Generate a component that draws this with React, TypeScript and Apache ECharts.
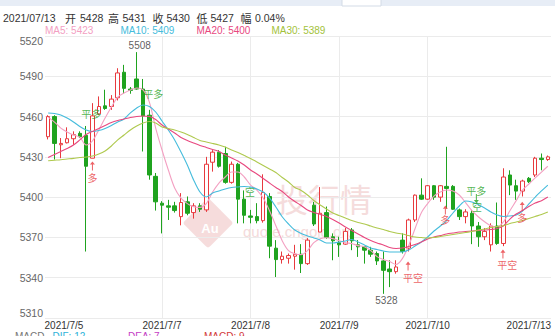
import React, { useEffect, useRef } from "react";
import * as echarts from "echarts";

// ---------- data ----------
// [open, close, lowest, highest]
const candles: number[][] = [
  [5445, 5460, 5443, 5461], [5460, 5440, 5428, 5461], [5439, 5440, 5429, 5444], [5440.5, 5443.5, 5440, 5452],
  [5443.5, 5446.5, 5439, 5449], [5447.5, 5445, 5444, 5449], [5446, 5423, 5359.5, 5453], [5429, 5460.5, 5429, 5470],
  [5462, 5467.5, 5461, 5475], [5468, 5466, 5465, 5480], [5467.5, 5473, 5465, 5476], [5474, 5492.5, 5472, 5496],
  [5493, 5481, 5477, 5498.5], [5480.5, 5479.5, 5477, 5482], [5488, 5480.5, 5480, 5508], [5480.5, 5460.5, 5434, 5488],
  [5461, 5416.5, 5413, 5465], [5415.5, 5396.5, 5390, 5418], [5395.5, 5394, 5373, 5397], [5393.5, 5392.5, 5383, 5398],
  [5393.5, 5390, 5388.5, 5396.5], [5385.5, 5396, 5379, 5403], [5396.5, 5388, 5386.5, 5400.5], [5388.5, 5393.5, 5384, 5395.5],
  [5393.5, 5391, 5389, 5395.5], [5390.5, 5424.5, 5389, 5430], [5426, 5433.5, 5419, 5435], [5433.5, 5423, 5422, 5435],
  [5432.5, 5411, 5410, 5437.5], [5411, 5424.5, 5410, 5426.5], [5424.5, 5398.5, 5380.5, 5425.5], [5398.5, 5386.5, 5380.5, 5405],
  [5386, 5385, 5380.5, 5390.5], [5385.5, 5382.5, 5380.5, 5395.5], [5382.5, 5403.5, 5381, 5417], [5400.5, 5363.5, 5354.5, 5403],
  [5362, 5353.5, 5340.5, 5368], [5353.5, 5356, 5350.5, 5359.5], [5354.5, 5356.5, 5350.5, 5358], [5356, 5357.5, 5346, 5364.5],
  [5357.5, 5350.5, 5343.5, 5365], [5350.5, 5368, 5349.5, 5369.5], [5394, 5380, 5378.5, 5396.5], [5374, 5388, 5374, 5407.5],
  [5388.5, 5370, 5369, 5393], [5370.5, 5367.5, 5353, 5373], [5366, 5364.5, 5355.5, 5370.5], [5365, 5374.5, 5364.5, 5377],
  [5375.5, 5367.5, 5360.5, 5377], [5364.5, 5363, 5355.5, 5368], [5363, 5360.5, 5350.5, 5363.5], [5360.5, 5357.5, 5355.5, 5363],
  [5358, 5352.5, 5349.5, 5359.5], [5352.5, 5345.5, 5328, 5359.5], [5346.5, 5344.5, 5333, 5353], [5344.5, 5348, 5343, 5353],
  [5368, 5359.5, 5358, 5373], [5362, 5383, 5359.5, 5384], [5383, 5401.5, 5381.5, 5402], [5401.5, 5398.5, 5398, 5414],
  [5398.5, 5408.5, 5398, 5409], [5408.5, 5400, 5398, 5409], [5400, 5408.5, 5396.5, 5409], [5408, 5406.5, 5391.5, 5437.5],
  [5408, 5391, 5390.5, 5409], [5390.5, 5385.5, 5383, 5391.5], [5385.5, 5389, 5380.5, 5391], [5388, 5378.5, 5365, 5390.5],
  [5378.5, 5370.5, 5363, 5381.5], [5370.5, 5374.5, 5368, 5377], [5364.5, 5378.5, 5359.5, 5380.5], [5378.5, 5365.5, 5364.5, 5396],
  [5365.5, 5415, 5363.5, 5421.5], [5416.5, 5409, 5401.5, 5420], [5408.5, 5404.5, 5398, 5413], [5404.5, 5412, 5400.5, 5413],
  [5414, 5411.5, 5410.5, 5415], [5416.5, 5429, 5415, 5430], [5429, 5428, 5420, 5432.5], [5428, 5430, 5427, 5431],
];

const ma5 = [
  5459.6, 5455.9, 5451.4, 5448.5, 5446.2, 5444.7, 5438.8, 5441.8, 5450, 5458.9,
  5467.1, 5474.5, 5477.5, 5479.8, 5481.3, 5479.8, 5470.8, 5451.4, 5435.1, 5420.2,
  5406.8, 5399.3, 5395.2, 5392.9, 5392.4, 5395.2, 5403.8, 5410.5, 5415, 5418.7,
  5418.7, 5415, 5409, 5405.3, 5399.3, 5389.9, 5378.7, 5367.6, 5360.2, 5357.9,
  5357.2, 5360.2, 5366.1, 5369.1, 5369.8, 5369.1, 5367.6, 5366.1, 5365.4, 5363.9,
  5363.1, 5360.2, 5355.7, 5353.5, 5352, 5349.8, 5354.2, 5363.9, 5376.5, 5388.4,
  5395.2, 5400.8, 5403.8, 5405.3, 5404.5, 5401.6, 5395.9, 5389.9, 5385.4, 5381.7,
  5378.7, 5378, 5381.7, 5389.9, 5397.4, 5405.3, 5409.8, 5414.3, 5418.7, 5423,
];
const ma10 = [
  5462.7, 5462.3, 5461.2, 5458.9, 5456, 5452.6, 5450, 5448.9, 5449.6, 5451.1,
  5453.4, 5456, 5458.2, 5462.7, 5466.4, 5468.6, 5467.5, 5463.4, 5456.7, 5450,
  5442.6, 5433.6, 5423.9, 5412.8, 5403.8, 5400.1, 5403.1, 5404.6, 5406.1, 5407.2,
  5407.6, 5407.9, 5407.6, 5406.1, 5403.8, 5399.4, 5392.7, 5385.4, 5380, 5375.5,
  5372.9, 5371.1, 5369.6, 5368.1, 5365.9, 5365.9, 5366.6, 5367.3, 5368.5, 5366.6,
  5364.4, 5362.1, 5361, 5359.9, 5359.2, 5359.2, 5359.2, 5360.6, 5363.6, 5366.6,
  5370.3, 5374.8, 5378.5, 5382.6, 5388.2, 5393.4, 5397.1, 5396.4, 5394.5, 5391.9,
  5388.9, 5386.7, 5385.6, 5386, 5386.7, 5389.7, 5394.9, 5400.1, 5404.6, 5409,
];
const ma20 = [
  5429.5, 5431.8, 5434, 5436.2, 5438.8, 5442.6, 5446.7, 5448.9, 5451.1, 5453.4,
  5455.6, 5457.1, 5458.2, 5459.3, 5460.1, 5460.4, 5460.1, 5457.8, 5453.7, 5450.7,
  5447.8, 5444.4, 5442.2, 5440.3, 5438.5, 5437, 5435.5, 5434, 5431.4, 5429.2,
  5426.9, 5423.9, 5420.2, 5417.2, 5413.9, 5410.5, 5407.2, 5404.2, 5400.1, 5396.8,
  5393.8, 5390.4, 5388.6, 5387.1, 5385.6, 5383.3, 5380.7, 5377.8, 5375.2, 5372.6,
  5369.9, 5367.7, 5365.9, 5364.4, 5362.5, 5361.8, 5362.1, 5363.2, 5364.7, 5366.6,
  5368.8, 5370.3, 5371.4, 5372.6, 5373.3, 5374, 5374.4, 5374.8, 5375.2, 5375.5,
  5375.9, 5376.6, 5378.7, 5383.7, 5387.4, 5390, 5393, 5395.6, 5397.4, 5400.1,
];
const ma30 = [
  5427.1, 5427.5, 5427.9, 5428.4, 5428.9, 5429.5, 5429.9, 5430.6, 5432.1, 5434.4,
  5438.1, 5442.6, 5446.3, 5450, 5453, 5455.2, 5456.3, 5455.2, 5452.2, 5451.1,
  5450, 5448.5, 5446.7, 5444.4, 5442.2, 5441.1, 5440, 5438.8, 5437.3, 5435.1,
  5433.2, 5431, 5428.8, 5426.2, 5423.6, 5421, 5418.4, 5414.6, 5411.3, 5407.2,
  5405, 5401.6, 5397.5, 5394.2, 5391.2, 5388.2, 5386.3, 5384.5, 5382.6, 5381.1,
  5380, 5378.5, 5377, 5375.9, 5374.4, 5373.3, 5372.6, 5371.4, 5370.3, 5369.9,
  5369.6, 5369.9, 5370.7, 5371.4, 5372.2, 5372.9, 5373.7, 5374.4, 5375.5, 5376.3,
  5377.4, 5378.1, 5378.7, 5380.4, 5381.5, 5382.6, 5384.1, 5385.6, 5387.1, 5388.9,
];

const lastDate = "2021/07/13";
const dateLabels = ["2021/7/5", "2021/7/7", "2021/7/8", "2021/7/9", "2021/7/10", "2021/7/13"];
const dateLabelPos = [2.5, 18, 32, 46, 60, 76];
const dayLinePos = [18, 32, 46, 60];

const yMin = 5310;
const yMax = 5520;
const yStep = 30;

// signal texts: [position (candle index), price, text]
const buyTexts: [number, number, string][] = [
  [7, 5414.3, "多"],
  [57.7, 5340.3, "平空"],
  [62.8, 5383, "多"],
  [72.6, 5350.2, "平空"],
  [74.95, 5385, "多"],
];
const sellTexts: [number, number, string][] = [
  [6.8, 5462.6, "平多"],
  [16.6, 5477.5, "平多"],
  [31.9, 5404, "空"],
  [67.7, 5405, "平多"],
  [67.8, 5392.8, "空"],
];
// signal arrows: [position, price]
const buyArrows: [number, number][] = [
  [7, 5423.2],
  [56.9, 5348.7],
  [62.8, 5390.4],
  [71.9, 5357.6],
  [74.95, 5393.2],
];
const sellArrows: [number, number][] = [[67.7, 5398.9]];

const macdDif = 12;
const macdDea = 7;
const macdVal = 9;

// ---------- component ----------
const RED = "#e83a3e";
const GREEN = "#1fa31f";
const C_MA5 = "#f3a0c2";
const C_MA10 = "#45bcdc";
const C_MA20 = "#e8487f";
const C_MA30 = "#afc94e";
const LATIN = "'Liberation Sans', Arial, 'Noto Sans CJK SC', sans-serif";
const CJK = "'Noto Sans CJK SC', 'Liberation Sans', sans-serif";
const ARROW = "path://M3,0L6,4.5H3.6V13H2.4V4.5H0Z";

export default function App() {
  const ref = useRef<HTMLDivElement>(null);

  useEffect(() => {
    document.body.style.margin = "0";
    const chart = echarts.init(ref.current as HTMLDivElement, null, { renderer: "svg" });

    const categories = candles.map((_, i) => String(i));
    const last = candles[candles.length - 1];
    const prev = candles[candles.length - 2];
    const pct = (((last[1] - prev[1]) / prev[1]) * 100).toFixed(2) + "%";

    let hiIdx = 0;
    let loIdx = 0;
    candles.forEach((c, i) => {
      if (c[3] > candles[hiIdx][3]) hiIdx = i;
      if (c[2] < candles[loIdx][2]) loIdx = i;
    });

    const headerPieces: [string, number, boolean][] = [
      [lastDate, 3, false],
      ["开", 65, true],
      [String(last[0]), 80, false],
      ["高", 108, true],
      [String(last[3]), 122.5, false],
      ["收", 152.5, true],
      [String(last[1]), 166.5, false],
      ["低", 196.5, true],
      [String(last[2]), 210.5, false],
      ["幅", 240.5, true],
      [pct, 255, false],
    ];

    const txt = (text: string, x: number, y: number, fill: string, font: string, align = "left", va = "middle", z = 10) => ({
      type: "text",
      x,
      y,
      z,
      silent: true,
      style: { text, fill, font, align, textAlign: align, verticalAlign: va, textVerticalAlign: va },
    });

    const maLegend = [
      ["MA5: " + Math.round(ma5[ma5.length - 1]), 45, C_MA5],
      ["MA10: " + Math.round(ma10[ma10.length - 1]), 120.5, C_MA10],
      ["MA20: " + Math.round(ma20[ma20.length - 1]), 196.5, C_MA20],
      ["MA30: " + Math.round(ma30[ma30.length - 1]), 271.5, "#a3c23a"],
    ] as [string, number, string][];

    const graphic: any[] = [
      { type: "rect", z: 10, silent: true, shape: { x: 0, y: 0, width: 555, height: 6 }, style: { fill: "#e7edf6" } },
      { type: "rect", z: 11, silent: true, shape: { x: 342, y: -1, width: 39, height: 7 }, style: { fill: "#ffffff", stroke: "#d3dbe6", lineWidth: 1 } },
      ...headerPieces.map(([t, x, cjk]) =>
        txt(t, x, 17.5, "#333", cjk ? `11px ${CJK}` : `10.5px ${LATIN}`)
      ),
      ...maLegend.map(([t, x, c]) => txt(t, x, 30.5, c, `10px ${LATIN}`)),
      txt("MACD", 15, 331, "#777", `10px ${LATIN}`, "left", "top"),
      txt("DIF: " + macdDif, 52.5, 331, "#2eb2d8", `10px ${LATIN}`, "left", "top"),
      txt("DEA: " + macdDea, 128, 331, "#c43cc4", `10px ${LATIN}`, "left", "top"),
      txt("MACD: " + macdVal, 204, 331, "#d23a3a", `10px ${LATIN}`, "left", "top"),
      // watermark
      {
        type: "rect",
        z: 0,
        silent: true,
        x: 208,
        y: 223,
        rotation: Math.PI / 4,
        shape: { x: -18, y: -18, width: 36, height: 36, r: 3 },
        style: { fill: "#f6dcdc" },
      },
      txt("Au", 210, 228, "#ffffff", `bold 13px ${LATIN}`, "center", "middle", 0),
      txt("投行情", 276, 198, "#f5dcdc", `32px ${CJK}`, "left", "middle", 0),
      txt("quote.cngold.org", 243, 231, "#f4dada", `15px ${LATIN}`, "left", "middle", 0),
    ];

    const textSeries = (data: [number, number, string][], color: string) => ({
      type: "scatter",
      xAxisIndex: 1,
      yAxisIndex: 0,
      symbolSize: 1,
      itemStyle: { color: "rgba(0,0,0,0)" },
      silent: true,
      z: 6,
      data: data.map(([x, y, t]) => ({ value: [x, y], name: t })),
      label: {
        show: true,
        position: "inside",
        formatter: "{b}",
        color,
        fontSize: 10,
        fontFamily: CJK,
        align: "center",
      },
    });

    const arrowSeries = (data: [number, number][], color: string, rotate: number) => ({
      type: "scatter",
      xAxisIndex: 1,
      yAxisIndex: 0,
      symbol: ARROW,
      symbolSize: [5, 9],
      symbolRotate: rotate,
      itemStyle: { color },
      silent: true,
      z: 6,
      data,
    });

    const maSeries = (name: string, data: number[], color: string) => ({
      name,
      type: "line",
      xAxisIndex: 0,
      data,
      smooth: 0.3,
      showSymbol: false,
      symbol: "none",
      silent: true,
      z: 4,
      lineStyle: { color, width: 1.1 },
    });

    const option: any = {
      animation: false,
      backgroundColor: "#ffffff",
      grid: { left: 45, right: 4, top: 36, bottom: 18, containLabel: false },
      graphic,
      xAxis: [
        {
          type: "category",
          position: "bottom",
          data: categories,
          boundaryGap: true,
          axisLine: { show: false },
          axisTick: { show: false },
          axisLabel: { show: false },
          splitLine: { show: false },
        },
        {
          type: "value",
          position: "bottom",
          min: -0.5,
          max: candles.length - 0.5,
          axisLine: { show: false },
          axisTick: { show: false },
          splitLine: { show: false },
          axisLabel: {
            customValues: dateLabelPos,
            formatter: (v: number) => {
              const k = dateLabelPos.indexOf(v);
              return k >= 0 ? dateLabels[k] : "";
            },
            color: "#333",
            fontSize: 10,
            fontFamily: LATIN,
            margin: 2,
            hideOverlap: false,
          },
        },
      ],
      yAxis: {
        type: "value",
        min: yMin,
        max: yMax,
        interval: yStep,
        axisLine: { show: false },
        axisTick: { show: false },
        axisLabel: {
          formatter: (v: number) => String(v),
          color: "#666",
          fontSize: 10.5,
          fontFamily: LATIN,
          margin: 2,
          verticalAlignMinLabel: "bottom",
          verticalAlignMaxLabel: "top",
        },
        splitLine: { lineStyle: { color: "#ebebeb", width: 1 } },
      },
      series: [
        {
          type: "scatter",
          xAxisIndex: 1,
          data: [],
          silent: true,
          z: 1,
          markLine: {
            silent: true,
            symbol: "none",
            label: { show: false },
            lineStyle: { color: "#ebebeb", type: "solid", width: 1 },
            data: dayLinePos.map((p) => ({ xAxis: p })),
            z: 1,
          },
        },
        {
          type: "candlestick",
          xAxisIndex: 0,
          data: candles,
          barWidth: 4,
          silent: true,
          z: 3,
          itemStyle: {
            color: "#ffffff",
            color0: GREEN,
            borderColor: RED,
            borderColor0: GREEN,
            borderWidth: 1,
          },
        },
        maSeries("MA5", ma5, C_MA5),
        maSeries("MA10", ma10, C_MA10),
        maSeries("MA20", ma20, C_MA20),
        maSeries("MA30", ma30, C_MA30),
        textSeries(buyTexts, RED),
        textSeries(sellTexts, GREEN),
        arrowSeries(buyArrows, RED, 0),
        arrowSeries(sellArrows, GREEN, 180),
        {
          type: "scatter",
          xAxisIndex: 0,
          symbolSize: 1,
          itemStyle: { color: "rgba(0,0,0,0)" },
          silent: true,
          z: 6,
          data: [
            { value: [hiIdx, candles[hiIdx][3]], name: String(candles[hiIdx][3]), label: { position: "top" } },
            { value: [loIdx, candles[loIdx][2]], name: String(candles[loIdx][2]), label: { position: "bottom" } },
          ],
          label: {
            show: true,
            formatter: "{b}",
            color: "#333",
            fontSize: 10,
            fontFamily: LATIN,
            distance: 1,
            offset: [3, 0],
          },
        },
      ],
    };

    chart.setOption(option);
    return () => chart.dispose();
  }, []);

  return <div ref={ref} style={{ width: 555, height: 336 }} />;
}
